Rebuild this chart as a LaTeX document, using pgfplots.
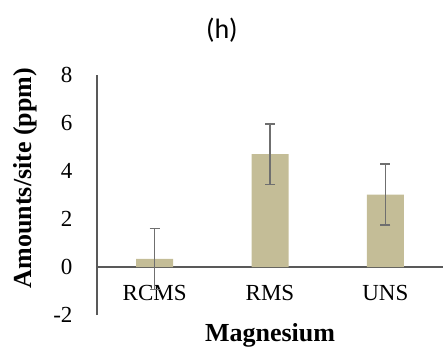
\documentclass[border=0pt]{standalone}
\usepackage{fontspec}
\setmainfont{Liberation Serif}
\newfontfamily\titlefont{Carlito}
\newfontfamily\tickfont{Liberation Serif}
\usepackage{pgfplots}
\pgfplotsset{compat=1.18}
\definecolor{barc}{HTML}{C4BD97}
\definecolor{axc}{HTML}{595959}
\definecolor{errc}{HTML}{6F6F6F}
\begin{document}
\begin{tikzpicture}
\useasboundingbox (-97pt,-41pt) rectangle (346pt,315pt);
\begin{axis}[
 at={(0,0)}, anchor=south west,
 scale only axis, width=346pt, height=240pt,
 xmin=-0.5, xmax=2.5, ymin=-2, ymax=8,
 axis x line*=middle, axis y line*=left,
 xtick={0,1,2}, xticklabels={RCMS,RMS,UNS},
 ytick={-2,0,...,8},
 major tick length=0pt,
 axis line style={axc, line width=1.2pt},
 tick label style={font=\tickfont\fontsize{23}{26}\selectfont},
 /pgf/number format/assume math mode=true,
 yticklabel style={xshift=-21pt},
 xticklabel style={yshift=-15pt},
 clip=false,
]
\addplot[ybar, bar width=37pt, fill=barc, draw=none,
  error bars/.cd, y dir=both, y explicit,
  error bar style={errc, line width=1.5pt},
  error mark options={rotate=90, mark size=5pt, errc, line width=1.5pt}]
  coordinates {(0,0.34) +- (0,1.27) (1,4.70) +- (0,1.26) (2,3.02) +- (0,1.27)};
\node[font=\titlefont\fontsize{28}{32}\selectfont] at (rel axis cs:0.361,1.1875) {(h)};
\node[font=\bfseries\fontsize{26}{30}\selectfont, rotate=90] at (rel axis cs:-0.208,0.571) {Amounts/site (ppm)};
\node[font=\bfseries\fontsize{26}{30}\selectfont] at (rel axis cs:0.5,-0.0833) {Magnesium};
\end{axis}
\end{tikzpicture}
\end{document}
